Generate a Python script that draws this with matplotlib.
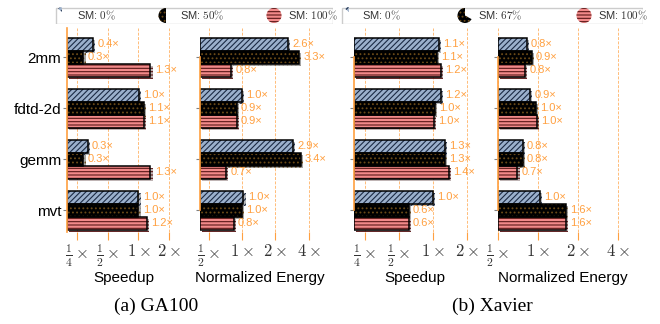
import numpy as np
import matplotlib
matplotlib.use('Agg')
import matplotlib.pyplot as plt
import matplotlib.patheffects as pe
from matplotlib.patches import Wedge, Rectangle
from matplotlib.ticker import NullLocator

plt.rcParams['font.family'] = ['Liberation Sans', 'DejaVu Sans']
plt.rcParams['mathtext.fontset'] = 'cm'
plt.rcParams['hatch.linewidth'] = 0.8

# data
benchmarks = ['2mm', 'fdtd-2d', 'gemm', 'mvt']

ga100_sm = [0, 50, 100]
ga100_speed_sm0 = [0.36, 1.02, 0.32, 1.0]
ga100_speed_sm50 = [0.29, 1.14, 0.29, 1.0]
ga100_speed_sm100 = [1.31, 1.13, 1.31, 1.22]
ga100_energy_sm0 = [2.6, 1.0, 2.9, 1.03]
ga100_energy_sm50 = [3.3, 0.9, 3.4, 1.0]
ga100_energy_sm100 = [0.8, 0.9, 0.72, 0.84]

xavier_sm = [0, 67, 100]
xavier_speed_sm0 = [1.13, 1.17, 1.28, 1.0]
xavier_speed_sm67 = [1.09, 1.04, 1.28, 0.61]
xavier_speed_sm100 = [1.18, 1.02, 1.38, 0.61]
xavier_energy_sm0 = [0.82, 0.87, 0.77, 1.03]
xavier_energy_sm67 = [0.9, 0.97, 0.77, 1.62]
xavier_energy_sm100 = [0.8, 0.98, 0.7, 1.62]

speed_ticks = [0.25, 0.5, 1, 2]
speed_ticklabels = [r'$\frac{1}{4}\times$', r'$\frac{1}{2}\times$', r'$1\times$', r'$2\times$']
energy_ticks = [0.5, 1, 2, 4]
energy_ticklabels = [r'$\frac{1}{2}\times$', r'$1\times$', r'$2\times$', r'$4\times$']

# styles: (face, hatch color, hatch)
styles = [('#9bb0cc', '#1b2a44', '//////'),
          ('#000000', '#6b4a18', '....'),
          ('#f28a8a', '#5a1818', '-----')]
ORANGE = '#ffa040'

W, H = 660, 324
fig = plt.figure(figsize=(W / 100, H / 100), dpi=100)


def px_axes(x0, x1, y0, y1):
    return fig.add_axes([x0 / W, 1 - y1 / H, (x1 - x0) / W, (y1 - y0) / H])


def draw_panel(ax, series, xlim, ticks, ticklabels, xlabel, ylabels, full_spine):
    y = np.arange(len(benchmarks))
    h = 0.255
    for k, vals in enumerate(series):
        face, hc, hatch = styles[k]
        pos = y + (k - 1) * h
        widths = np.array(vals) - xlim[0]
        ax.barh(pos, widths, height=h, left=xlim[0], color=face, edgecolor=hc,
                hatch=hatch, linewidth=0, zorder=2,
                path_effects=[pe.SimplePatchShadow(offset=(1.5, -1.5), alpha=0.35), pe.Normal()])
        ax.barh(pos, widths, height=h, left=xlim[0], fill=False, edgecolor='black',
                linewidth=1.1, zorder=3)
        for p, v in zip(pos, vals):
            ax.annotate(f'{v:.1f}×', (v, p), xytext=(3, 0), textcoords='offset points',
                        va='center', ha='left', fontsize=8, color=ORANGE, zorder=5)
    ax.set_xscale('log', base=2)
    ax.set_xlim(*xlim)
    ax.set_ylim(3.43, -0.57)
    ax.set_xticks(ticks)
    ax.set_xticklabels(ticklabels, fontsize=12, color='#333333')
    ax.xaxis.set_minor_locator(NullLocator())
    ax.tick_params(axis='x', color=ORANGE, length=6, width=0.8, pad=2)
    ax.grid(axis='x', color=ORANGE, linestyle=(0, (3, 1.5)), linewidth=0.7, alpha=0.7, zorder=4)
    ax.set_yticks(y)
    if ylabels:
        ax.set_yticklabels(benchmarks, fontsize=11)
    else:
        ax.set_yticklabels([])
    ax.tick_params(axis='y', color='gray', length=3, width=0.8, pad=1)
    for s in ['top', 'right', 'bottom']:
        ax.spines[s].set_visible(False)
    ax.spines['left'].set_color(ORANGE)
    ax.spines['left'].set_linewidth(1.2)
    ax.spines['left'].set_zorder(4)
    if not full_spine:
        ax.spines['left'].set_bounds(0, 3)
    ax.set_xlabel(xlabel, fontsize=11, labelpad=1)


ax1 = px_axes(67, 180, 28, 232)
draw_panel(ax1, [ga100_speed_sm0, ga100_speed_sm50, ga100_speed_sm100], (0.2, 2.55),
           speed_ticks, speed_ticklabels, 'Speedup', True, True)
ax2 = px_axes(200, 320, 28, 232)
draw_panel(ax2, [ga100_energy_sm0, ga100_energy_sm50, ga100_energy_sm100], (0.417, 5.07),
           energy_ticks, energy_ticklabels, 'Normalized Energy', False, False)
ax3 = px_axes(354, 476, 28, 232)
draw_panel(ax3, [xavier_speed_sm0, xavier_speed_sm67, xavier_speed_sm100], (0.2, 2.4),
           speed_ticks, speed_ticklabels, 'Speedup', False, False)
ax4 = px_axes(498, 628, 28, 232)
draw_panel(ax4, [xavier_energy_sm0, xavier_energy_sm67, xavier_energy_sm100], (0.5, 4.75),
           energy_ticks, energy_ticklabels, 'Normalized Energy', False, False)


def draw_legend(x0, x1, levels, marker_x, text_x):
    lg = px_axes(x0, x1, 7, 24)
    w = x1 - x0
    lg.set_xlim(0, w)
    lg.set_ylim(0, 17)
    lg.axis('off')
    lg.add_patch(Rectangle((0.5, 0.5), w - 1, 16, fill=False, edgecolor='#cccccc', linewidth=1))
    for k, lev in enumerate(levels):
        face, hc, hatch = styles[k]
        if lev == 0:
            wed = Wedge((marker_x[k], 12), 5, 95, 140, facecolor=face, edgecolor=hc, hatch=hatch, linewidth=0)
        else:
            wed = Wedge((marker_x[k], 8.5), 7.5, 90, 90 + 360 * lev / 100,
                        facecolor=face, edgecolor=hc, hatch=hatch, linewidth=0)
        lg.add_patch(wed)
        lg.text(text_x[k], 8.5, r'SM: $%d\%%$' % lev, fontsize=8, va='center', ha='left', color='#333333')


draw_legend(55, 333, ga100_sm, [7, 111, 219], [22, 125, 233])
draw_legend(341, 643, xavier_sm, [8, 124, 243], [21, 137, 257])

fig.text(156 / W, 1 - 306 / H, '(a) GA100', fontsize=14, family='Liberation Serif', ha='center', va='center')
fig.text(492 / W, 1 - 306 / H, '(b) Xavier', fontsize=14, family='Liberation Serif', ha='center', va='center')

fig.savefig('out.png', dpi=100)
